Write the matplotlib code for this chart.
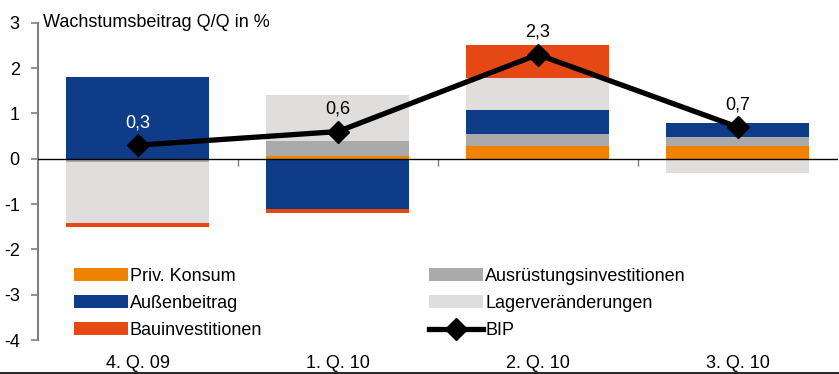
import matplotlib.pyplot as plt
from matplotlib.lines import Line2D
import numpy as np

plt.rcParams['font.family'] = ['Liberation Sans', 'DejaVu Sans']

# Daten
quartale = ["4. Q. 09", "1. Q. 10", "2. Q. 10", "3. Q. 10"]
priv_konsum = [0.0, 0.06, 0.28, 0.28]
ausruestung = [-0.08, 0.34, 0.27, 0.20]
aussenbeitrag = [1.80, -1.10, 0.53, 0.31]
lager = [-1.33, 1.00, 0.70, -0.31]
bau = [-0.10, -0.10, 0.73, 0.0]
bip = [0.3, 0.6, 2.3, 0.7]
bip_labels = ["0,3", "0,6", "2,3", "0,7"]

reihen = [
    ("Priv. Konsum", priv_konsum, "#EF8200"),
    ("Ausrüstungsinvestitionen", ausruestung, "#AAAAAA"),
    ("Außenbeitrag", aussenbeitrag, "#0F3C89"),
    ("Lagerveränderungen", lager, "#DFDEDD"),
    ("Bauinvestitionen", bau, "#E54715"),
]

fig = plt.figure(figsize=(8.39, 3.74), dpi=100)
ax = fig.add_axes([0.045, 0.0909, 0.9535, 0.848])

x = np.arange(len(quartale))
pos = np.zeros(len(quartale))
neg = np.zeros(len(quartale))
handles = {}
for name, werte, farbe in reihen:
    werte = np.array(werte)
    unten = np.where(werte >= 0, pos, neg)
    h = ax.bar(x, werte, 0.715, bottom=unten, color=farbe, label=name, zorder=2)
    handles[name] = h
    pos = pos + np.where(werte >= 0, werte, 0)
    neg = neg + np.where(werte < 0, werte, 0)

linie, = ax.plot(x, bip, color="black", lw=3.8, marker="D", markersize=11,
                 zorder=4, label="BIP")

for i, (v, t) in enumerate(zip(bip, bip_labels)):
    ax.annotate(t, (x[i], v), xytext=(0, 10), textcoords="offset points",
                ha="center", va="bottom", fontsize=13,
                color="white" if i == 0 else "black", zorder=5)

ax.axhline(0, color="black", lw=1, zorder=3)
ax.set_xlim(-0.5, 3.5)
ax.set_ylim(-4, 3)
ax.set_yticks(range(-4, 4))
ax.set_yticklabels([str(v) for v in range(-4, 4)], fontsize=13)
ax.tick_params(axis="y", length=5, width=1.2, color="#808080", pad=8)

for s in ["top", "right"]:
    ax.spines[s].set_visible(False)
ax.spines["left"].set_color("#808080")
ax.spines["left"].set_linewidth(1.5)
ax.spines["bottom"].set_position(("data", 0))
ax.spines["bottom"].set_visible(False)
ax.set_xticks([0.5, 1.5, 2.5])
ax.set_xticklabels([])
ax.tick_params(axis="x", length=5, width=1, color="#808080", direction="out")

sec = ax.secondary_xaxis("bottom")
sec.set_xticks(x)
sec.set_xticklabels(quartale, fontsize=13)
sec.tick_params(length=0, pad=11)
sec.spines["bottom"].set_visible(False)

ax.text(0.006, 3, "Wachstumsbeitrag Q/Q in %", transform=ax.get_yaxis_transform(),
        ha="left", va="center", fontsize=13)

leg_order = ["Priv. Konsum", "Außenbeitrag", "Bauinvestitionen",
             "Ausrüstungsinvestitionen", "Lagerveränderungen"]
leg_h = [handles[n] for n in leg_order] + [linie]
leg_l = leg_order + ["BIP"]
ax.legend(leg_h, leg_l, ncol=2, loc="upper left", bbox_to_anchor=(0.088, 0.284),
          bbox_transform=fig.transFigure, frameon=False, fontsize=13,
          handlelength=3.0, handleheight=0.75, handletextpad=0.1,
          labelspacing=0.56, columnspacing=9.25, borderpad=0, borderaxespad=0)

fig.add_artist(Line2D([0, 1], [0.003, 0.003], color="black", lw=1.2,
                      transform=fig.transFigure))

fig.savefig("out.png", dpi=100)
